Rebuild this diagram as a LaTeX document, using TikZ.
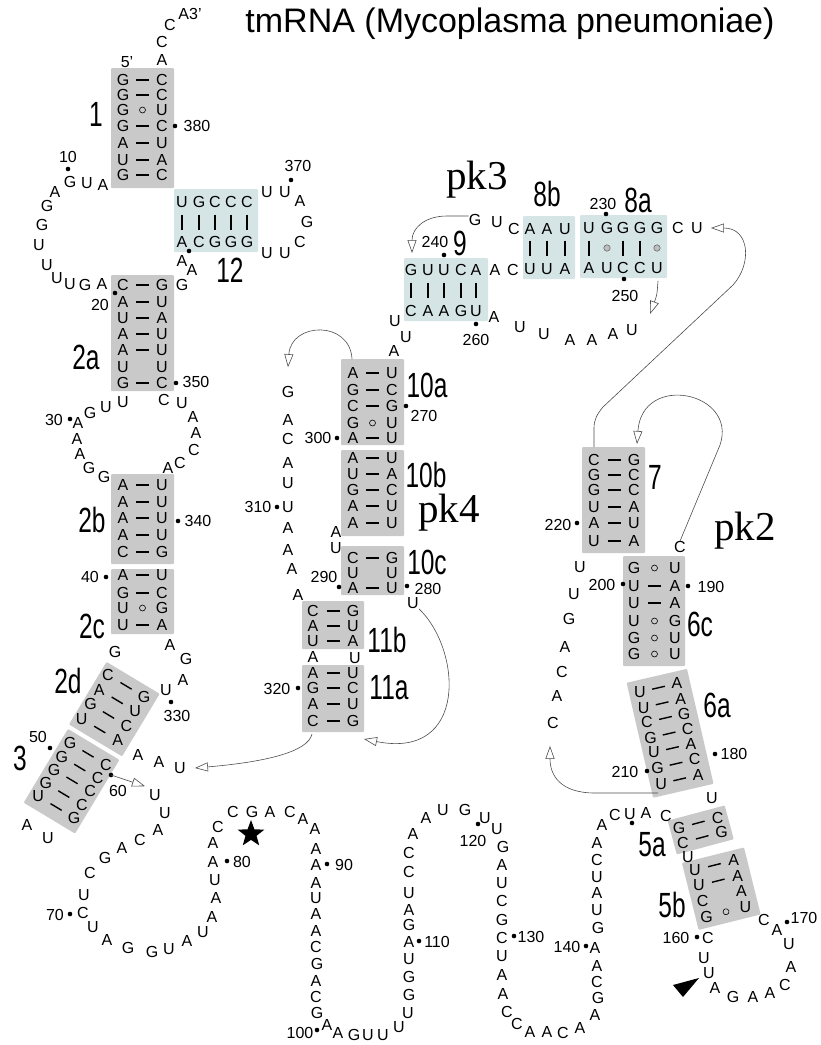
\documentclass[tikz,border=0pt]{standalone}
\usepackage{fontspec}
\setmainfont{Liberation Sans}
\newfontfamily\pkfont{Liberation Serif}
\usetikzlibrary{arrows.meta,shapes.geometric}

\definecolor{stemgray}{RGB}{201,201,201}
\definecolor{stemblue}{RGB}{213,228,228}

% condensed helix names
\newcommand{\hname}[1]{\scalebox{0.7}[1]{#1}}

\tikzset{
	nt/.style={inner sep=0pt,font=\fontsize{16}{16}\selectfont},
	num/.style={inner sep=0pt,font=\fontsize{16}{16}\selectfont},
	hlab/.style={inner sep=0pt,font=\fontsize{35}{35}\selectfont},
	pklab/.style={inner sep=0pt,font=\pkfont\fontsize{41}{41}\selectfont},
	gbox/.style={fill=stemgray,rounded corners=1pt},
	bbox/.style={fill=stemblue,rounded corners=1pt},
	bond/.style={line width=1.4pt},
	bar/.style={line width=1.3pt},
	wob/.style={line width=0.6pt},
	gwob/.style={line width=0.6pt,draw=black!60,fill=black!25},
	pk/.style={draw=black!70,line width=0.6pt},
}

% vertical helix: name, left x, right x, list of y/left/pair/right (pair: 1 bar, 2 wobble, 0 none)
\newcommand{\vstem}[4]{%
	\foreach \ya/\lt/\pr/\rt in {#4} {
		\node[nt] (#1l\ya) at (#2,\ya) {\lt};
		\node[nt] (#1r\ya) at (#3,\ya) {\rt};
		\ifnum\pr=1 \draw[bond] ({(#2+#3)/2-6.5},\ya) -- ({(#2+#3)/2+6.5},\ya);\fi
		\ifnum\pr=2 \draw[wob] ({(#2+#3)/2},\ya) circle (3pt);\fi
	}}

% horizontal helix: name, top y, middle y, bottom y, list of x/top/pair/bottom
\newcommand{\hstem}[5]{%
	\foreach \xa/\tp/\pr/\bt in {#5} {
		\node[nt] (#1t\xa) at (\xa,#2) {\tp};
		\node[nt] (#1b\xa) at (\xa,#4) {\bt};
		\ifnum\pr=1 \draw[bar] (\xa,{#3-7.5}) -- (\xa,{#3+7.5});\fi
		\ifnum\pr=2 \draw[gwob] (\xa,#3) circle (3.2pt);\fi
	}}

\begin{document}
\begin{tikzpicture}[x=1pt,y=-1pt,>={Triangle[open,length=13pt,width=9pt]}]
	\useasboundingbox (0,0) rectangle (820,1045);

	% title
	\node[anchor=base,inner sep=0pt,font=\fontsize{34}{34}\selectfont] (title) at (510,32) {tmRNA (Mycoplasma pneumoniae)};

	% grey helices
	\fill[gbox] (111,68) rectangle (174,188);
	\fill[gbox] (111,275) rectangle (174,391);
	\fill[gbox] (111,474) rectangle (174,564);
	\fill[gbox] (111,569) rectangle (174,634);
	\fill[gbox] (341,359) rectangle (404,445);
	\fill[gbox] (341,450) rectangle (404,536);
	\fill[gbox] (341,546) rectangle (404,595);
	\fill[gbox] (302,601) rectangle (364,649);
	\fill[gbox] (302,665) rectangle (364,732);
	\fill[gbox] (582,447) rectangle (645,553);
	\fill[gbox] (623,556) rectangle (685,666);

	\vstem{h1}{123}{162}{80/G/1/C,95/G/1/C,110/G/2/U,126/G/1/C,143/A/1/U,160/U/1/A,175/G/1/C}
	\vstem{h2a}{123}{162}{285/C/1/G,302/A/1/U,318/U/1/A,334/A/1/U,350/A/1/U,367/U/0/U,383/G/1/C}
	\vstem{h2b}{123}{162}{485/A/1/U,502/A/1/U,518/A/1/U,535/A/1/U,552/C/1/G}
	\vstem{h2c}{123}{162}{575/A/1/U,593/G/1/C,608/U/2/G,625/U/1/A}
	\vstem{h10a}{353}{392}{373/A/1/U,390/G/1/C,406/C/1/G,423/G/2/U,438/A/1/U}
	\vstem{h10b}{353}{392}{458/A/1/U,474/U/1/A,490/G/1/C,506/A/1/U,523/A/1/U}
	\vstem{h10c}{353}{392}{558/C/1/G,573/U/0/U,588/A/1/U}
	\vstem{h11b}{313}{353}{611/C/1/G,626/A/1/U,641/U/1/A}
	\vstem{h11a}{313}{353}{673/A/1/U,688/G/1/C,704/A/1/U,721/C/1/G}
	\vstem{h7}{594}{634}{460/C/1/G,475/G/1/C,490/G/1/C,507/U/1/A,523/A/1/U,541/U/1/A}
	\vstem{h6c}{634}{675}{568/G/2/U,586/U/1/A,603/U/1/A,621/U/2/G,638/G/2/U,654/G/2/U}

	% tilted helices
	\begin{scope}[shift={(108,675)},rotate=-31]
		\fill[gbox] (-8,-10.5) rectangle (54,62.5);
		\vstem{h2d}{0}{42}{0/C/1/G,17/A/1/U,34/G/1/C,51/U/1/A}
	\end{scope}
	\begin{scope}[shift={(70,743)},rotate=-31]
		\fill[gbox] (-9,-11) rectangle (51,75);
		\vstem{h3}{0}{42}{0/G/1/C,16/G/1/C,31/G/1/C,47/G/1/C,62/U/1/G}
	\end{scope}
	\begin{scope}[shift={(640,692)},rotate=13]
		\fill[gbox] (-11,-12) rectangle (51,106);
		\vstem{h6a}{0}{38}{0/U/1/A,16/U/1/A,31/C/1/G,47/G/1/C,62/U/1/A,78/G/1/C,94/U/1/A}
	\end{scope}
	\begin{scope}[shift={(679,828)},rotate=15]
		\fill[gbox] (-9,-10) rectangle (50,25);
		\vstem{h5a}{0}{40}{0/G/1/C,15/C/1/G}
	\end{scope}
	\begin{scope}[shift={(695,870)},rotate=14]
		\fill[gbox] (-11,-10) rectangle (53,59);
		\vstem{h5b}{0}{40}{0/U/1/A,16/U/1/A,32/C/0/A,48/G/2/U}
	\end{scope}

	% blue helices
	\fill[bbox] (174,189) rectangle (258,252);
	\fill[bbox] (404,258) rectangle (488,321);
	\fill[bbox] (523,216) rectangle (575,279);
	\fill[bbox] (580,215) rectangle (667,278);
	\hstem{h12}{202}{222}{242}{182/U/1/A,199/G/1/C,215/C/1/G,231/C/1/G,247/C/1/G}
	\hstem{h9}{270}{290}{311}{411/G/1/C,428/U/1/A,444/U/1/A,461/C/1/G,476/A/1/U}
	\hstem{h8b}{229}{248}{269}{530/A/1/U,547/A/1/U,565/U/1/A}
	\hstem{h8a}{228}{248}{268}{589/U/1/A,607/G/2/U,623/G/1/C,640/G/1/C,657/G/2/U}

	% single strands
	\node[nt] (end3) at (190,14) {A3'};
	\node[nt] (end5) at (127,62) {5'};
	\foreach \x/\y/\s [count=\i] in {
		162/60/A, 162/42/C, 170/25/C,
		% loop left of helix 1
		103/185/A, 87/183/U, 70/182/G, 55/192/A, 47/206/G, 42/225/G, 39/245/U,
		47/265/U, 57/278/U, 70/284/U, 85/285/G, 102/284/A,
		% loop of helix 12
		267/192/U, 285/192/U, 300/201/A, 307/222/G, 300/242/C, 285/253/U, 267/253/U,
		182/261/A, 192/270/A, 182/285/G,
		% loop between 2a and 2b
		123/402/U, 106/407/U, 90/413/G, 78/423/A, 77/439/A, 80/454/A, 89/468/G, 104/477/G,
		164/400/C, 182/403/U, 193/417/A, 196/433/A, 194/450/C, 180/463/C, 168/468/A,
		% around 2d and 3
		115/652/G, 170/645/A, 186/659/G, 183/680/A, 166/690/U,
		138/755/A, 159/762/A, 27/825/A, 48/838/U,
		% long strand at the bottom
		165/813/U, 158/830/A, 140/840/C, 122/848/A, 105/858/G, 90/873/C, 84/895/U, 83/913/C,
		93/927/U, 107/940/A, 128/948/G, 152/952/G, 169/949/U, 187/941/A, 203/932/U, 212/917/A,
		216/898/A, 215/880/U, 213/862/A, 213/843/A, 218/827/C, 233/812/C, 252/812/G, 270/812/A,
		290/812/C, 303/819/A, 315/829/A, 316/849/A, 316/865/A, 316/883/A, 316/898/U, 316/914/A,
		316/931/A, 316/947/C, 317/964/G, 316/981/A, 316/997/C, 317/1013/G, 327/1025/A, 338/1033/A,
		354/1035/G, 368/1035/U, 383/1035/U, 399/1027/U, 408/1013/U, 409/995/G, 409/977/G, 409/959/U,
		409/942/A, 409/925/G, 409/910/A, 409/893/U, 409/872/C, 409/853/C, 413/834/A, 426/818/A,
		443/810/U, 465/810/G, 485/818/U, 497/829/U, 503/847/G, 502/865/A, 502/883/U, 502/901/C,
		502/920/G, 502/938/C, 502/956/U, 502/975/A, 503/994/A, 507/1012/C, 517/1024/C, 530/1032/A,
		547/1032/A, 563/1033/C, 580/1028/A, 595/1015/A, 598/998/G, 597/982/C, 597/966/A, 595/948/A,
		598/928/G, 597/910/U, 597/893/A, 597/877/U, 597/860/C, 597/843/A, 602/825/A, 615/815/C,
		630/814/U, 646/813/A, 666/816/C,
		% around 5a, 5b and 6a
		688/857/U, 712/798/U,
		708/938/C, 704/958/U, 709/973/U, 715/988/A, 733/997/G, 753/997/A, 770/993/A, 785/985/C,
		791/967/A, 789/944/U, 777/930/A, 764/920/C,
		% loop left of 6c
		580/567/U, 574/594/U, 569/619/G, 565/647/A, 562/672/C, 557/696/A,
		% strand left of helix 10
		288/420/A, 288/439/C, 288/463/A, 288/483/U, 288/507/U, 288/528/A, 288/550/A, 292/569/A,
		298/595/A, 336/532/A, 336/548/U, 313/657/A, 355/658/U,
		% around 9 and 8
		395/321/U, 406/337/U, 394/351/A, 497/222/U, 514/229/C, 495/270/A, 513/270/C,
		494/317/A, 520/327/U, 544/334/U, 570/340/A, 592/340/A, 613/334/A, 632/330/U, 678/228/C}
		\node[nt] (s\i) at (\x,\y) {\s};

	% bases where the pseudoknot arrows start or end
	\node[nt] (u61) at (155,795) {U};
	\node[nt] (upk1) at (180,768) {U};
	\node[nt] (u281) at (413,603) {U};
	\node[nt] (gpk4) at (288,392) {G};
	\node[nt] (gpk3) at (475,220) {G};
	\node[nt] (ucu) at (697,228) {U};
	\node[nt] (cpk2) at (680,547) {C};
	\node[nt] (c216) at (553,723) {C};

	% numbering
	\foreach \dx/\dy/\tx/\ty/\t in {
		175/126/197/126/380, 68/169/68/157/10, 115/293/100/305/20, 176/383/196/382/350,
		70/419/54/420/30, 178/521/198/521/340, 106/577/90/577/40, 171/702/177/716/330,
		50/748/38/737/50, 111/775/118/791/60, 70/914/55/915/70, 227/861/242/862/80,
		327/864/344/865/90, 317/1030/300/1033/100, 419/941/437/942/110, 478/824/473/841/120,
		514/936/531/937/130, 586/946/567/947/140, 697/937/676/938/160, 787/922/804/918/170,
		715/754/734/754/180, 688/586/711/587/190, 623/584/602/585/200, 647/771/625/772/210,
		577/523/558/525/220, 606/214/603/204/230, 444/255/435/242/240, 624/279/625/296/250,
		476/324/476/340/260, 406/406/424/416/270, 407/586/428/589/280, 339/587/324/577/290,
		337/438/318/438/300, 277/507/258/507/310, 298/688/277/689/320, 291/180/298/166/370} {
		\fill (\dx,\dy) circle (2.3pt);
		\node[num] (n\t) at (\tx,\ty) {\t};
	}
	\fill (189,251) circle (2.3pt);
	\fill (632,823) circle (2.3pt);

	% helix names
	\foreach \x/\y/\t in {96/114/1, 230/270/12, 86/357/2a, 92/520/2b, 92/626/2c, 68/681/2d,
		20/758/3, 427/385/10a, 426/475/10b, 427/562/10c, 387/640/11b, 389/688/11a, 460/243/9,
		547/194/8b, 638/200/8a, 655/477/7, 700/624/6c, 717/705/6a, 652/845/5a, 672/905/5b}
		\node[hlab] (lab\t) at (\x,\y) {\hname{\t}};
	\node[pklab] (pk3) at (477,180) {pk3};
	\node[pklab] (pk4) at (449,513) {pk4};
	\node[pklab] (pk2) at (745,531) {pk2};

	% marks
	\node[star,star points=5,star point ratio=2.4,fill=black,inner sep=0pt,minimum size=28pt] (star) at (251,834) {};
	\fill (673,985) -- (699,978) -- (683,997) -- cycle;

	% pseudoknot arrows
	\coordinate (d60) at (111,775);
	\coordinate (k11a) at (312,734);
	\coordinate (t11a) at (364,739);
	\coordinate (k10a) at (352,359);
	\coordinate (t9) at (412,253);
	\coordinate (k8a) at (658,281);
	\coordinate (t8a) at (650,314);
	\coordinate (k7) at (594,447);
	\coordinate (t7) at (637,444);
	\coordinate (k6a) at (658,793);

	\draw[pk,->] (d60) -- ([xshift=-4pt,yshift=3pt]u61.north west);
	\draw[pk,->] (k11a) .. controls (308,752) and (265,762) .. ([xshift=9pt]upk1.east);
	\draw[pk,->] (u281.south east) .. controls (462,650) and (468,760) .. (t11a);
	\draw[pk,->] (k10a) .. controls (350,320) and (291,322) .. ([yshift=19pt]gpk4.north);
	\draw[pk,->] ([yshift=4pt]gpk3.west) -- (447,216) .. controls (425,216) and (412,228) .. (t9);
	\draw[pk,->] (k8a) .. controls (657,295) .. (t8a);
	\draw[pk,->] (k7) -- (594,428) .. controls (594,420) and (597,414) .. (603,407) -- (733,285)
		.. controls (752,264) and (750,228) .. ([xshift=8pt]ucu.east);
	\draw[pk,->] (cpk2.north) -- (720,445) .. controls (738,392) and (642,372) .. (t7);
	\draw[pk,->] (k6a) -- (595,793) .. controls (560,793) and (550,775) .. ([xshift=-3pt,yshift=-17pt]c216.south);
\end{tikzpicture}
\end{document}
